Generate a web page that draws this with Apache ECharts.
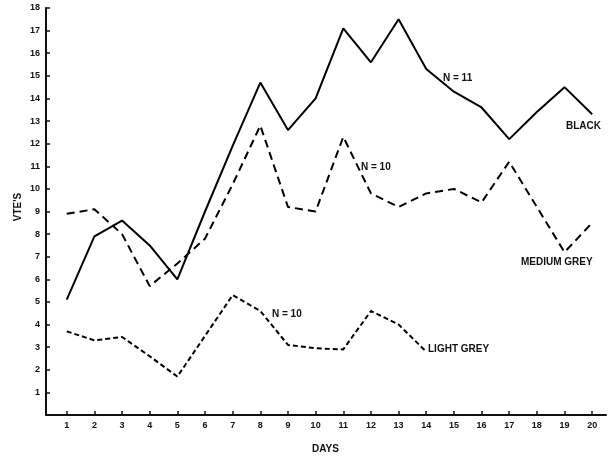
<!DOCTYPE html>
<html>
<head>
<meta charset="utf-8">
<title>VTE's by day</title>
<script src="https://cdn.jsdelivr.net/npm/echarts@6/dist/echarts.min.js"></script>
<style>
  html, body { margin: 0; padding: 0; background: #fff; }
  #main { width: 609px; height: 459px; }
</style>
</head>
<body>
<div id="main"></div>
<script type="text/javascript">
    // days on the x axis
    var days = [1, 2, 3, 4, 5, 6, 7, 8, 9, 10, 11, 12, 13, 14, 15, 16, 17, 18, 19, 20];
    var yTicks = [1, 2, 3, 4, 5, 6, 7, 8, 9, 10, 11, 12, 13, 14, 15, 16, 17, 18];

    // VTE's
    var black = [5.1, 7.9, 8.6, 7.5, 6.0, 9.0, 11.9, 14.7, 12.6, 14.0, 17.1, 15.6, 17.5, 15.3, 14.3, 13.6, 12.2, 13.4, 14.5, 13.3];
    var mediumGrey = [8.9, 9.1, 8.0, 5.7, 6.7, 7.8, 10.2, 12.8, 9.2, 9.0, 12.3, 9.8, 9.2, 9.8, 10.0, 9.4, 11.2, 9.2, 7.2, 8.5];
    var lightGrey = [3.7, 3.3, 3.45, 2.6, 1.7, 3.5, 5.3, 4.6, 3.1, 2.95, 2.9, 4.6, 4.0, 2.8];

    function pairs(vals) {
        return vals.map(function (v, i) { return [days[i], v]; });
    }

    var font = '"Liberation Sans", Arial, sans-serif';
    var myChart = echarts.init(document.getElementById('main'), null, {renderer: 'canvas'});

    function note(text, x, y, extra) {
        var o = {
            type: 'text', x: x, y: y,
            style: {text: text, fill: '#111', font: 'bold 10px ' + font, align: 'left', verticalAlign: 'middle'}
        };
        if (extra) { for (var k in extra) o[k] = extra[k]; }
        return o;
    }

    myChart.setOption({
        animation: false,
        grid: {left: 46, right: 3, top: 8, bottom: 44},
        xAxis: {
            type: 'value',
            min: 0.25,
            max: 20.5,
            splitLine: {show: false},
            axisLine: {lineStyle: {color: '#111', width: 2}},
            axisTick: {inside: true, length: 4, customValues: days, lineStyle: {color: '#111', width: 1.5}},
            axisLabel: {customValues: days, color: '#111', fontSize: 9, fontWeight: 'bold', fontFamily: font, margin: 6}
        },
        yAxis: {
            type: 'value',
            min: 0,
            max: 18,
            splitLine: {show: false},
            axisLine: {show: true, lineStyle: {color: '#111', width: 2}},
            axisTick: {inside: true, length: 4, customValues: yTicks, lineStyle: {color: '#111', width: 1.5}},
            axisLabel: {customValues: yTicks, color: '#111', fontSize: 9, fontWeight: 'bold', fontFamily: font, margin: 6}
        },
        series: [
            {
                name: 'BLACK', type: 'line', data: pairs(black),
                symbol: 'none', lineStyle: {color: '#000', width: 2}
            },
            {
                name: 'MEDIUM GREY', type: 'line', data: pairs(mediumGrey),
                symbol: 'none', lineStyle: {color: '#000', width: 2, type: [8, 5]}
            },
            {
                name: 'LIGHT GREY', type: 'line', data: pairs(lightGrey),
                symbol: 'none', lineStyle: {color: '#000', width: 2, type: [5, 3]}
            }
        ],
        graphic: [
            note('N = 11', 443, 78),
            note('BLACK', 566, 126),
            note('N = 10', 361, 167),
            note('MEDIUM GREY', 521, 262),
            note('N = 10', 272, 314),
            note('LIGHT GREY', 428, 349),
            note('DAYS', 312, 449),
            note("VTE'S", 18, 207, {rotation: Math.PI / 2, style: {text: "VTE'S", fill: '#111', font: 'bold 10px ' + font, align: 'center', verticalAlign: 'middle'}})
        ]
    });
</script>
</body>
</html>
